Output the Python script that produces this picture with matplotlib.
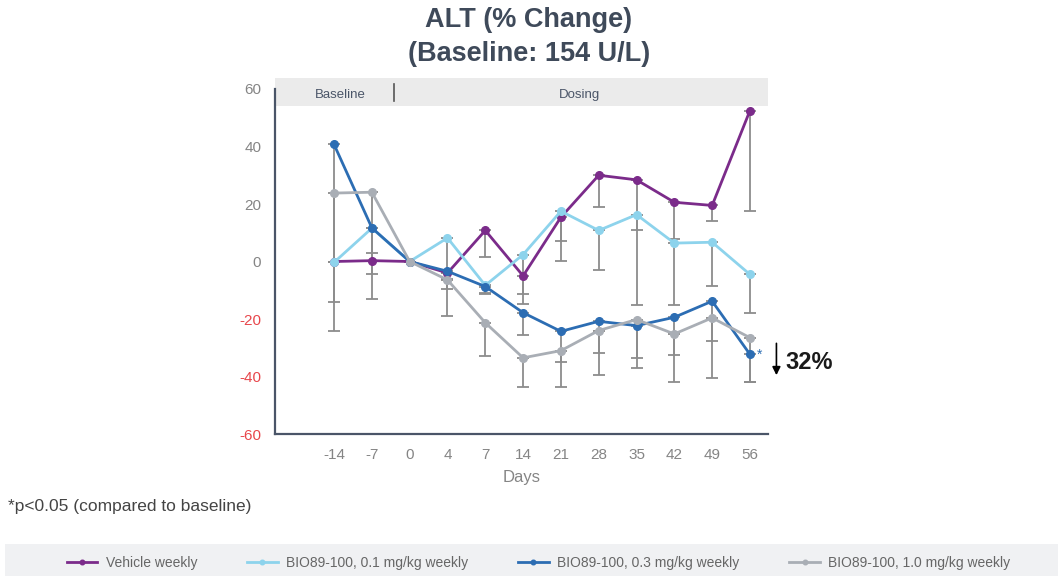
import matplotlib
matplotlib.use('Agg')
import matplotlib.pyplot as plt
from matplotlib.patches import Rectangle

plt.rcParams['font.family'] = ['Liberation Sans', 'DejaVu Sans']
plt.rcParams['axes.unicode_minus'] = False

days = ['-14', '-7', '0', '4', '7', '14', '21', '28', '35', '42', '49', '56']

vehicle = [0, 0.3, 0, -4, 10.8, -5, 15.4, 30, 28.4, 20.6, 19.5, 52.5]
dose_01 = [-0.3, 11.6, 0, 8.2, -8.3, 2.4, 17.5, 10.8, 16.3, 6.4, 6.7, -4.5]
dose_03 = [40.7, 11.7, 0, -3.4, -8.7, -17.8, -24.3, -20.8, -22.3, -19.4, -13.8, -32.3]
dose_10 = [23.8, 24.1, 0, -6.4, -21.3, -33.5, -31, -24, -20.2, -25.2, -19.6, -26.5]

# lower end of each error bar (bars only drawn downward)
vehicle_lo = [0, 0.3, 0, -4, 1.5, -11.2, 7.3, 18.9, 10.8, 8, 14, 17.7]
dose_01_lo = [-0.3, 2.8, 0, -9.6, -11.3, -14.8, 0.3, -2.9, -15, -15, -8.5, -18]
dose_03_lo = [-24, -4.5, 0, -6, -11, -25.4, -34.8, -31.9, -33.6, -32.5, -27.7, -42]
dose_10_lo = [-14, -13, 0, -19.1, -33, -43.7, -43.5, -39.4, -37.2, -42, -40.5, -42]

labels = ['Vehicle weekly', 'BIO89-100, 0.1 mg/kg weekly',
          'BIO89-100, 0.3 mg/kg weekly', 'BIO89-100, 1.0 mg/kg weekly']
colors = ['#7B2B8A', '#8DD3EC', '#2C6DB3', '#A9AEB5']

fig = plt.figure(figsize=(10.58, 5.76), dpi=100)
ax = fig.add_axes([0.26, 0.2465, 0.466, 0.599])

x = list(range(len(days)))
series = [(vehicle, vehicle_lo), (dose_01, dose_01_lo), (dose_03, dose_03_lo), (dose_10, dose_10_lo)]

for (vals, lo), c in zip(series, colors):
    err = [[v - l for v, l in zip(vals, lo)], [0] * len(vals)]
    ax.errorbar(x, vals, yerr=err, fmt='none', ecolor='#8C8C8C', elinewidth=1.3,
                capsize=4, capthick=1.3, zorder=1)

handles = []
for (vals, lo), c, lab in zip(series, colors, labels):
    h, = ax.plot(x, vals, color=c, lw=2, marker='o', ms=5.5, label=lab, zorder=3)
    handles.append(h)

ax.set_xlim(-1.56, 11.48)
ax.set_ylim(-60, 60)
ax.set_yticks([-60, -40, -20, 0, 20, 40, 60])
ax.set_xticks(x)
ax.set_xticklabels(days)
ax.tick_params(length=0, labelsize=11, colors='#858585', pad=10)
for t in ax.get_yticklabels():
    if t.get_text().startswith('-'):
        t.set_color('#E8474C')
ax.set_xlabel('Days', fontsize=12, color='#858585', labelpad=6)

for s in ['top', 'right']:
    ax.spines[s].set_visible(False)
for s in ['left', 'bottom']:
    ax.spines[s].set_color('#4A5568')
    ax.spines[s].set_linewidth(1.6)

# header band
ax.add_patch(Rectangle((0, 0.951), 1, 0.082, transform=ax.transAxes,
                       facecolor='#EBEBEB', edgecolor='none', clip_on=False, zorder=0))
ax.plot([1.59, 1.59], [0.965, 1.015], transform=ax.get_xaxis_transform(),
        color='#555555', lw=1.2, clip_on=False)
ax.text(0.16, 0.982, 'Baseline', transform=ax.get_xaxis_transform(), ha='center',
        va='center', fontsize=9.5, color='#4A5568')
ax.text(6.5, 0.982, 'Dosing', transform=ax.get_xaxis_transform(), ha='center',
        va='center', fontsize=9.5, color='#4A5568')

# annotation
ax.text(11.25, -32.3, '*', color='#2C6DB3', fontsize=10, ha='center', va='center', clip_on=False)
ax.annotate('', xy=(11.7, -40.5), xytext=(11.7, -27.5),
            arrowprops=dict(arrowstyle='-|>', color='black', lw=1.2, mutation_scale=12),
            annotation_clip=False)
ax.text(11.95, -35, '32%', fontsize=17, fontweight='bold',
        color='#1A1A1A', ha='left', va='center', clip_on=False)

fig.text(0.5, 0.935, 'ALT (% Change)\n(Baseline: 154 U/L)', ha='center', va='center',
         fontsize=19.5, fontweight='bold', color='#3F4A5A', linespacing=1.4)

fig.text(0.008, 0.12, '*p<0.05 (compared to baseline)', fontsize=12.5, color='#444444',
         ha='left', va='center')

# legend band
fig.patches.append(Rectangle((0.005, 0.0), 0.995, 0.055, transform=fig.transFigure,
                             facecolor='#F0F1F3', edgecolor='none', zorder=0))
leg = fig.legend(handles=handles, loc='center', bbox_to_anchor=(0.509, 0.022), ncol=4,
                 frameon=False, fontsize=10, handlelength=2.2, columnspacing=3.6,
                 markerscale=0.6, handletextpad=0.6)
for t in leg.get_texts():
    t.set_color('#666666')

fig.savefig('out.png', dpi=100)
